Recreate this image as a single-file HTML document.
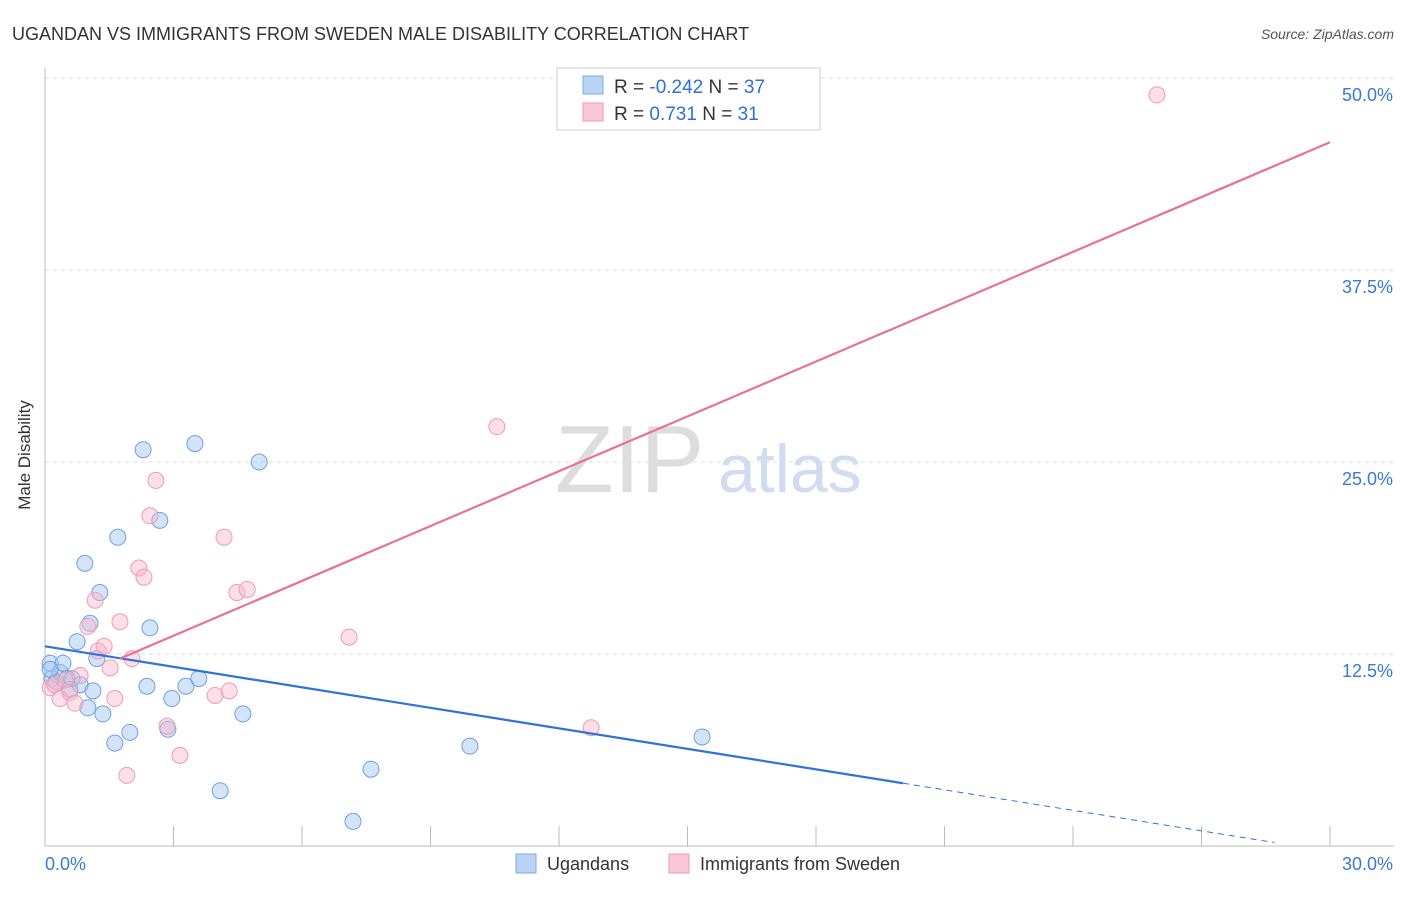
<!DOCTYPE html>
<html><head><meta charset="utf-8"><style>
body{margin:0;background:#fff;font-family:"Liberation Sans",sans-serif;}
svg text{font-family:"Liberation Sans",sans-serif;}
</style></head><body>
<svg id="c" width="1406" height="892">
<text x="12" y="40" font-size="18" fill="#333">UGANDAN VS IMMIGRANTS FROM SWEDEN MALE DISABILITY CORRELATION CHART</text>
<text x="1394" y="39" font-size="14" fill="#555" font-style="italic" text-anchor="end">Source: ZipAtlas.com</text>
<text x="30" y="455" font-size="17" fill="#333" text-anchor="middle" transform="rotate(-90 30 455)">Male Disability</text>
<text x="555" y="492" font-size="96" fill="#ddd" font-family="Liberation Serif">ZIP</text>
<text x="718" y="492" font-size="68" fill="#cfdcf2">atlas</text>
<g id="grid"></g><g id="marks"></g>
<g>
<rect x="557" y="68" width="263" height="62" fill="#fff" stroke="#ccc"/>
<rect x="583" y="76" width="20" height="18" fill="#b9d3f5" stroke="#7ea8e0"/>
<rect x="583" y="103" width="20" height="18" fill="#f9c6d6" stroke="#ee9ab5"/>
<text x="614" y="93" font-size="19" fill="#333">R = <tspan fill="#2f6fd6">-0.242</tspan>   N = <tspan fill="#2f6fd6">37</tspan></text>
<text x="614" y="120" font-size="19" fill="#333">R =   <tspan fill="#2f6fd6">0.731</tspan>   N =  <tspan fill="#2f6fd6">31</tspan></text>
</g>
<g>
<rect x="516" y="854" width="20" height="19" fill="#b9d3f5" stroke="#7ea8e0"/>
<text x="547" y="870" font-size="18" fill="#333">Ugandans</text>
<rect x="669" y="854" width="20" height="19" fill="#f9c6d6" stroke="#ee9ab5"/>
<text x="700" y="870" font-size="18" fill="#333">Immigrants from Sweden</text>
</g>
</svg>
<script>
const yTicks=[12.5,25.0,37.5,50.0];
const yTickLabels=["12.5%","25.0%","37.5%","50.0%"];
const blueX=[0.12,0.16,0.26,0.35,0.42,0.51,0.58,0.63,0.75,0.82,0.93,1.00,1.05,1.12,1.21,1.28,1.35,1.63,1.70,1.98,2.29,2.38,2.45,2.68,2.87,2.96,3.29,3.50,3.59,4.09,4.62,5.00,7.19,7.61,9.92,15.34,0.12];
const blueY=[11.9,10.9,10.7,11.3,11.9,10.9,10.2,10.9,13.3,10.5,18.4,9.0,14.5,10.1,12.2,16.5,8.6,6.7,20.1,7.4,25.8,10.4,14.2,21.2,7.6,9.6,10.4,26.2,10.9,3.6,8.6,25.0,1.6,5.0,6.5,7.1,11.5];
const pinkX=[0.12,0.23,0.35,0.47,0.58,0.70,0.82,1.00,1.17,1.24,1.38,1.52,1.63,1.75,1.91,2.03,2.19,2.31,2.45,2.59,2.85,3.15,3.97,4.18,4.30,4.48,4.72,7.10,10.55,12.75,25.96];
const pinkY=[10.3,10.5,9.6,10.8,10.0,9.3,11.1,14.3,16.0,12.7,13.0,11.6,9.6,14.6,4.6,12.2,18.1,17.5,21.5,23.8,7.8,5.9,9.8,20.1,10.1,16.5,16.7,13.6,27.3,7.7,48.9];
const blueLine=[13.0,-0.445]; // intercept, slope
const pinkLine=[10.12,1.19];
const X=v=>45+v*1285/30, Y=v=>846-v*192/12.5;
const NS='http://www.w3.org/2000/svg';
function mk(p,t,a){const e=document.createElementNS(NS,t);for(const k in a)e.setAttribute(k,a[k]);p.appendChild(e);return e;}
const g=document.getElementById('grid'),m=document.getElementById('marks');
yTicks.forEach((t,i)=>{
 const l=mk(g,'line',{x1:45,x2:1394,y1:Y(t),y2:Y(t),stroke:'#ddd','stroke-dasharray':'4,4'});
 
 
 const tx=mk(g,'text',{x:1393,y:Y(t)+23,'font-size':18,fill:'#3a78d8','text-anchor':'end'});tx.textContent=yTickLabels[i];
 
 
});
mk(g,'line',{x1:45,x2:45,y1:68,y2:846,stroke:'#bbb'});
mk(g,'line',{x1:45,x2:1394,y1:846,y2:846,stroke:'#bbb'});
for(let i=0;i<=10;i++){mk(g,'line',{x1:X(i*3),x2:X(i*3),y1:826,y2:846,stroke:'#bbb'});}
let t0=mk(g,'text',{x:45,y:870,'font-size':18,fill:'#3a78d8'});t0.textContent='0.0%';

let t1=mk(g,'text',{x:1393,y:870,'font-size':18,fill:'#3a78d8','text-anchor':'end'});t1.textContent='30.0%';

blueX.forEach((x,i)=>{const c=mk(m,'circle',{cx:X(x),cy:Y(blueY[i]),r:8,fill:'rgba(160,195,240,0.45)',stroke:'#6f9fe0','stroke-width':1});
 });
pinkX.forEach((x,i)=>{const c=mk(m,'circle',{cx:X(x),cy:Y(pinkY[i]),r:8,fill:'rgba(248,185,205,0.45)',stroke:'#ee9ab5','stroke-width':1});
 });
const bl=v=>blueLine[0]+blueLine[1]*v, pl=v=>pinkLine[0]+pinkLine[1]*v;
let a=mk(m,'line',{x1:X(0),y1:Y(bl(0)),x2:X(20.03),y2:Y(bl(20.03)),stroke:'#2f72d8','stroke-width':2.2});

let b=mk(m,'line',{x1:X(20.03),y1:Y(bl(20.03)),x2:X(28.7),y2:Y(bl(28.7)),stroke:'#2f72d8','stroke-width':1,'stroke-dasharray':'6,5'});

let p=mk(m,'line',{x1:X(1.75),y1:Y(pl(1.75)),x2:X(30),y2:Y(pl(30)),stroke:'#e8709a','stroke-width':2.2});

</script>
</body></html>
